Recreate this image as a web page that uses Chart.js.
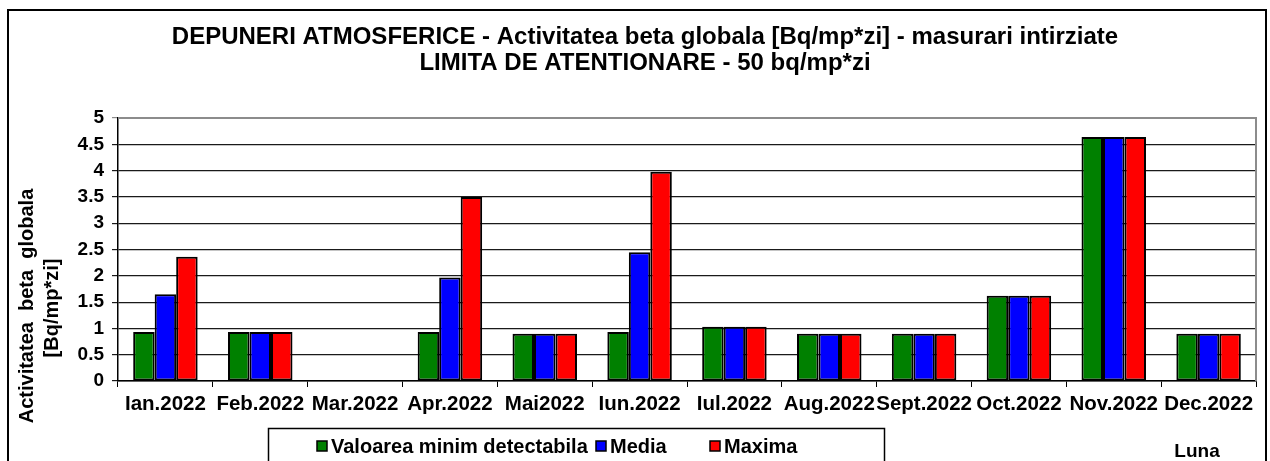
<!DOCTYPE html>
<html>
<head>
<meta charset="utf-8">
<title>Depuneri atmosferice 2022</title>
<script src="https://cdn.jsdelivr.net/npm/chart.js@4.4.1/dist/chart.umd.min.js"></script>
<style>
	html, body { margin: 0; padding: 0; background: #fff; }
	canvas { display: block; }
</style>
</head>
<body>
<canvas id="chart-canvas" width="1270" height="461"></canvas>
<script>
var months = ["Ian.2022", "Feb.2022", "Mar.2022", "Apr.2022", "Mai2022", "Iun.2022", "Iul.2022", "Aug.2022", "Sept.2022", "Oct.2022", "Nov.2022", "Dec.2022"];
var minDetectabil = [0.93, 0.93, null, 0.93, 0.9, 0.93, 1.03, 0.9, 0.9, 1.62, 4.64, 0.9];
var media = [1.65, 0.93, null, 1.97, 0.9, 2.45, 1.03, 0.9, 0.9, 1.62, 4.64, 0.9];
var maxima = [2.36, 0.93, null, 3.5, 0.9, 3.98, 1.03, 0.9, 0.9, 1.62, 4.64, 0.9];
var seriesNames = ["Valoarea minim detectabila", "Media", "Maxima"];
var yTicks = [0, 0.5, 1, 1.5, 2, 2.5, 3, 3.5, 4, 4.5, 5];

var titleLines = ["DEPUNERI ATMOSFERICE - Activitatea beta globala [Bq/mp*zi] - masurari intirziate", "LIMITA DE ATENTIONARE - 50 bq/mp*zi"];
var yTitleLines = ["Activitatea  beta  globala", "[Bq/mp*zi]"];
var xTitle = "Luna";

var fontFamily = "'Liberation Sans', Arial, sans-serif";

// titles, legend box and frame, drawn the way excel placed them
var decorPlugin = {
	id: "decor",
	beforeDraw: function(chart) {
		var ctx = chart.ctx;
		ctx.save();
		ctx.fillStyle = "#fff";
		ctx.fillRect(0, 0, chart.width, chart.height);
		ctx.restore();
	},
	beforeDatasetsDraw: function(chart) {
		var ctx = chart.ctx;
		var a = chart.chartArea;
		ctx.save();
		ctx.strokeStyle = "#8c8c8c";
		ctx.lineWidth = 2;
		ctx.beginPath();
		ctx.moveTo(a.left, a.top);
		ctx.lineTo(a.right, a.top);
		ctx.lineTo(a.right, a.bottom);
		ctx.stroke();
		ctx.restore();
	},
	afterDraw: function(chart) {
		var ctx = chart.ctx;
		ctx.save();
		ctx.fillStyle = "#000";

		// main title
		ctx.font = "bold 24px " + fontFamily;
		ctx.textAlign = "center";
		ctx.textBaseline = "middle";
		ctx.fillText(titleLines[0], 645, 37);
		ctx.fillText(titleLines[1], 645, 63);

		// y axis title, rotated
		ctx.font = "bold 20px " + fontFamily;
		ctx.save();
		ctx.translate(27, 306);
		ctx.rotate(-Math.PI / 2);
		ctx.fillText(yTitleLines[0], 0, 0);
		ctx.restore();
		ctx.save();
		ctx.translate(52, 308);
		ctx.rotate(-Math.PI / 2);
		ctx.fillText(yTitleLines[1], 0, 0);
		ctx.restore();

		// x axis title
		ctx.font = "bold 19px " + fontFamily;
		ctx.fillText(xTitle, 1197, 452);

		// legend
		ctx.strokeStyle = "#000";
		ctx.lineWidth = 1.5;
		ctx.strokeRect(268.5, 428.5, 616, 60);
		var legendX = [317, 596, 710];
		ctx.font = "bold 20px " + fontFamily;
		ctx.textAlign = "left";
		var ds = chart.data.datasets;
		for (var i = 0; i < ds.length; i++) {
			ctx.fillStyle = ds[i].backgroundColor;
			ctx.fillRect(legendX[i], 441, 10, 10);
			ctx.lineWidth = 1.5;
			ctx.strokeRect(legendX[i], 441, 10, 10);
			ctx.fillStyle = "#000";
			ctx.fillText(ds[i].label, legendX[i] + 14, 447);
		}

		// outer frame
		ctx.lineWidth = 2;
		ctx.strokeStyle = "#000";
		ctx.strokeRect(8, 10, 1258, 480);
		ctx.restore();
	}
};

function makeDataset(label, values, color) {
	return {
		label: label,
		data: values,
		backgroundColor: color,
		borderColor: "#000",
		borderWidth: 2,
		borderSkipped: false,
		categoryPercentage: 0.68,
		barPercentage: 1.0
	};
}

function createChart() {
	new Chart(document.getElementById("chart-canvas"), {
		type: "bar",
		data: {
			labels: months,
			datasets: [
				makeDataset(seriesNames[0], minDetectabil, "#008000"),
				makeDataset(seriesNames[1], media, "#0000ff"),
				makeDataset(seriesNames[2], maxima, "#ff0000")
			]
		},
		options: {
			responsive: false,
			animation: false,
			layout: { padding: { top: 118, right: 14, bottom: 0, left: 0 } },
			plugins: {
				legend: { display: false },
				title: { display: false },
				tooltip: { enabled: false }
			},
			scales: {
				x: {
					offset: true,
					afterFit: function(scale) { scale.height = 80; },
					grid: {
						offset: true,
						drawOnChartArea: false,
						drawTicks: true,
						tickLength: 6,
						color: "#000"
					},
					border: { display: true, color: "#000", width: 1.5 },
					ticks: {
						autoSkip: false,
						maxRotation: 0,
						padding: 5,
						color: "#000",
						font: { family: fontFamily, size: 20.5, weight: "bold" }
					}
				},
				y: {
					min: 0,
					max: 5,
					afterFit: function(scale) { scale.width = 118; },
					afterBuildTicks: function(scale) {
						scale.ticks = yTicks.map(function(v) { return { value: v }; });
					},
					grid: {
						drawTicks: true,
						tickLength: 6,
						lineWidth: 1.2,
						color: function(c) { return c.tick && c.tick.value === 5 ? "#8c8c8c" : "#1a1a1a"; }
					},
					border: { display: true, color: "#000", width: 1.5 },
					ticks: {
						padding: 8,
						color: "#000",
						font: { family: fontFamily, size: 19, weight: "bold" },
						callback: function(v) { return String(v); }
					}
				}
			}
		},
		plugins: [decorPlugin]
	});
}

createChart();
</script>
</body>
</html>
